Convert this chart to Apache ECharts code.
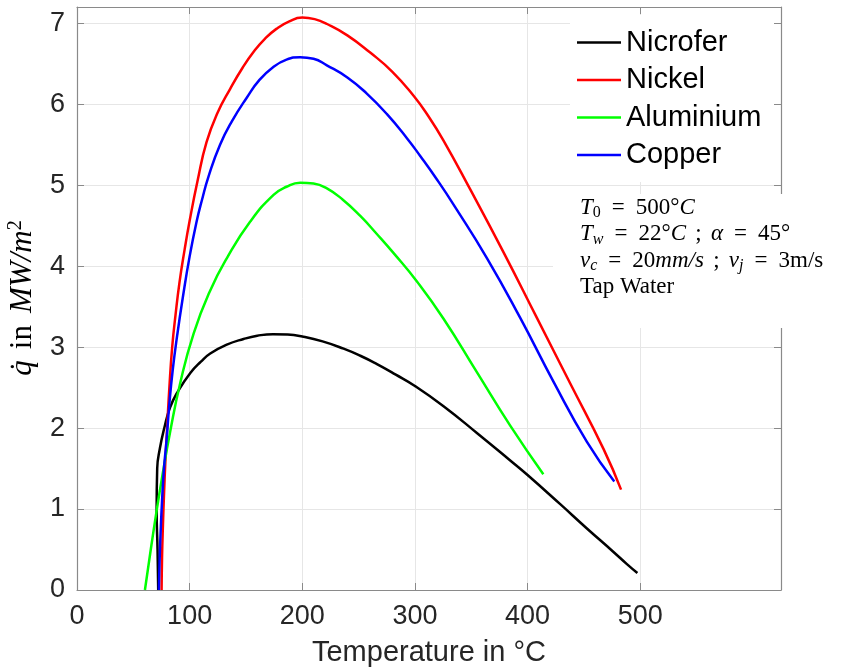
<!DOCTYPE html>
<html>
<head>
<meta charset="utf-8">
<script src="https://cdn.jsdelivr.net/npm/echarts@6/dist/echarts.min.js"></script>
<style>
  html, body { margin: 0; padding: 0; background: #ffffff; }
  #chart { width: 841px; height: 672px; }
</style>
</head>
<body>
<div id="chart"></div>
<script>
// Heat flux q (MW/m^2) versus surface temperature (°C) for four plate materials
const seriesNames = ['Nicrofer', 'Nickel', 'Aluminium', 'Copper'];

const nicroferT = [72.1, 71.5, 70.7, 71.2, 73.6, 77.5, 82.5, 89.5, 100.6, 110, 118.3, 133, 147.9, 160, 174, 187, 200, 218, 236.7, 252, 266.3, 283, 300, 325.4, 355, 384.6, 400, 429, 452.7, 476.3, 488.2, 497.5];
const nicroferQ = [0, 0.5, 1.0, 1.5, 1.75, 2.0, 2.25, 2.45, 2.68, 2.82, 2.92, 3.03, 3.10, 3.14, 3.16, 3.155, 3.13, 3.07, 2.98, 2.89, 2.79, 2.66, 2.52, 2.27, 1.94, 1.60, 1.42, 1.06, 0.76, 0.47, 0.32, 0.21];

const nickelT = [75.1, 75.5, 76.3, 77.3, 78.5, 80, 82, 84.5, 87.5, 91, 95.5, 100, 107, 115, 125, 136, 147, 157, 167, 177, 188, 200, 211, 222, 240, 260, 280, 299, 312, 325.4, 349, 378.7, 408.3, 437.9, 467.5, 483];
const nickelQ = [0, 0.4, 0.8, 1.2, 1.6, 2.0, 2.5, 3.0, 3.4, 3.8, 4.2, 4.56, 5.05, 5.53, 5.90, 6.19, 6.45, 6.65, 6.81, 6.93, 7.02, 7.07, 7.05, 6.99, 6.85, 6.64, 6.40, 6.10, 5.85, 5.55, 4.95, 4.17, 3.36, 2.55, 1.74, 1.24];

const aluminiumT = [60.3, 65.5, 70.7, 76, 82.5, 91.7, 103.6, 118.3, 133.1, 153.8, 174.5, 186, 198.2, 210, 221.9, 236, 251.5, 266, 281.1, 301.8, 325.4, 355, 384.6, 414];
const aluminiumQ = [0, 0.5, 0.98, 1.43, 1.94, 2.56, 3.17, 3.7, 4.1, 4.55, 4.88, 4.98, 5.03, 5.02, 4.96, 4.82, 4.62, 4.40, 4.16, 3.81, 3.35, 2.69, 2.03, 1.43];

const copperT = [72.7, 73.3, 74.2, 75.5, 77.2, 79.5, 82, 85, 89, 93.8, 100, 106.2, 111, 116.6, 127, 138, 150.7, 162, 174.3, 186, 198, 210, 221.8, 240, 257.3, 275, 292.9, 304.7, 320, 334.3, 363.9, 393.5, 423.1, 452.7, 477];
const copperQ = [0, 0.35, 0.7, 1.1, 1.5, 1.85, 2.3, 2.72, 3.15, 3.6, 4.12, 4.55, 4.82, 5.1, 5.5, 5.8, 6.08, 6.3, 6.46, 6.55, 6.58, 6.56, 6.48, 6.33, 6.13, 5.88, 5.58, 5.36, 5.06, 4.76, 4.10, 3.36, 2.57, 1.83, 1.34];

const xTickValues = [0, 100, 200, 300, 400, 500];
const yTickValues = [0, 1, 2, 3, 4, 5, 6, 7];
const xRange = [0, 625];
const yRange = [0, 7.2];

const colors = ['#000000', '#ff0000', '#00ff00', '#0000ff'];
const axisGrey = '#8a8a8a';
const labelColor = '#262626';
const sans = 'Liberation Sans';
const serif = 'Liberation Serif';

function pairs(xs, ys) { return xs.map((x, i) => [x, ys[i]]); }

const seriesData = [
  pairs(nicroferT, nicroferQ),
  pairs(nickelT, nickelQ),
  pairs(aluminiumT, aluminiumQ),
  pairs(copperT, copperQ)
];

const chart = echarts.init(document.getElementById('chart'), null, { renderer: 'canvas' });

const mathRich = {
  i: { fontFamily: serif, fontStyle: 'italic', fontSize: 23, color: '#000', lineHeight: 27 },
  r: { fontFamily: serif, fontSize: 23, color: '#000', lineHeight: 27 },
  s: { fontFamily: serif, fontSize: 16, color: '#000', lineHeight: 16, verticalAlign: 'bottom' },
  si: { fontFamily: serif, fontStyle: 'italic', fontSize: 16, color: '#000', lineHeight: 16, verticalAlign: 'bottom' },
  eq: { fontFamily: serif, fontSize: 23, color: '#000', lineHeight: 27, width: 35, align: 'center' },
  sc: { fontFamily: serif, fontSize: 23, color: '#000', lineHeight: 27, width: 25, align: 'center' }
};

const noteLines = [
  '{i|T}{s|0}{eq|=}{r|500°}{i|C}',
  '{i|T}{si|w}{eq|=}{r|22°}{i|C}{sc|;}{i|α}{eq|=}{r|45°}',
  '{i|v}{si|c}{eq|=}{r|20}{i|mm/s}{sc|;}{i|v}{si|j}{eq|=}{r|3m/s}',
  '{r|Tap Water}'
];
const noteTop = 194;
const noteStep = 26.6;

const graphics = [
  // white backing behind the legend entries
  { type: 'rect', z: 3, silent: true, shape: { x: 570, y: 15, width: 204, height: 167 }, style: { fill: '#ffffff' } },
  // white box for the parameter note
  { type: 'rect', z: 6, silent: true, shape: { x: 553, y: 194, width: 288, height: 134 }, style: { fill: '#ffffff' } },
  // y-axis title, rotated
  {
    type: 'text', z: 7, x: 23, y: 298, rotation: Math.PI / 2,
    style: {
      text: '{i|q\u0307}{r|in}{i|MW/m}{sup|2}',
      align: 'center', verticalAlign: 'middle',
      rich: {
        i: { fontFamily: serif, fontStyle: 'italic', fontSize: 31, color: '#333', lineHeight: 34 },
        r: { fontFamily: serif, fontSize: 31, color: '#333', lineHeight: 34, padding: [0, 12, 0, 11] },
        sup: { fontFamily: serif, fontSize: 20, color: '#333', lineHeight: 20, verticalAlign: 'top' }
      }
    }
  }
];
noteLines.forEach((line, k) => {
  graphics.push({
    type: 'text', z: 7, x: 580, y: noteTop + k * noteStep,
    style: { text: line, align: 'left', verticalAlign: 'top', rich: mathRich }
  });
});

function frameAxis(extra) {
  return Object.assign({
    type: 'value',
    axisLine: { show: true, onZero: false, lineStyle: { color: axisGrey, width: 1.2 } },
    axisTick: { show: true, inside: true, length: 7, lineStyle: { color: axisGrey } }
  }, extra);
}

const option = {
  animation: false,
  backgroundColor: '#ffffff',
  grid: { left: 77, right: 60, top: 7, bottom: 80, containLabel: false },
  legend: {
    data: seriesNames,
    orient: 'vertical',
    left: 577, top: 27.5,
    padding: 0,
    z: 5,
    icon: 'rect',
    itemWidth: 44, itemHeight: 2.5,
    itemGap: 7.5,
    selectedMode: false,
    textStyle: { fontFamily: sans, fontSize: 29, color: '#000', lineHeight: 30 }
  },
  xAxis: [
    frameAxis({
      position: 'bottom', min: xRange[0], max: xRange[1],
      name: 'Temperature in °C', nameLocation: 'middle', nameGap: 48,
      nameTextStyle: { fontFamily: sans, fontSize: 29, color: labelColor },
      axisTick: { show: true, inside: true, length: 7, customValues: xTickValues, lineStyle: { color: axisGrey } },
      axisLabel: { customValues: xTickValues, fontFamily: sans, fontSize: 27, color: labelColor, margin: 13 },
      splitLine: { show: true, lineStyle: { color: '#e6e6e6', width: 1 } }
    }),
    frameAxis({
      position: 'top', min: xRange[0], max: xRange[1], z: 4,
      axisTick: { show: true, inside: true, length: 7, customValues: xTickValues, lineStyle: { color: axisGrey } },
      axisLabel: { show: false },
      splitLine: { show: false }
    })
  ],
  yAxis: [
    frameAxis({
      position: 'left', min: yRange[0], max: yRange[1],
      axisTick: { show: true, inside: true, length: 7, customValues: yTickValues, lineStyle: { color: axisGrey } },
      axisLabel: { customValues: yTickValues, fontFamily: sans, fontSize: 27, color: labelColor, margin: 12 },
      splitLine: { show: true, lineStyle: { color: '#e6e6e6', width: 1 } }
    }),
    frameAxis({
      position: 'right', min: yRange[0], max: yRange[1], z: 4,
      axisTick: { show: true, inside: true, length: 7, customValues: yTickValues, lineStyle: { color: axisGrey } },
      axisLabel: { show: false },
      splitLine: { show: false }
    })
  ],
  series: seriesNames.map((name, k) => ({
    name: name,
    type: 'line',
    xAxisIndex: 0, yAxisIndex: 0,
    data: seriesData[k],
    showSymbol: false,
    smooth: 0.5,
    z: 2,
    color: colors[k],
    lineStyle: { color: colors[k], width: 2.5 },
    emphasis: { disabled: true }
  })),
  graphic: graphics
};

chart.setOption(option);
</script>
</body>
</html>
